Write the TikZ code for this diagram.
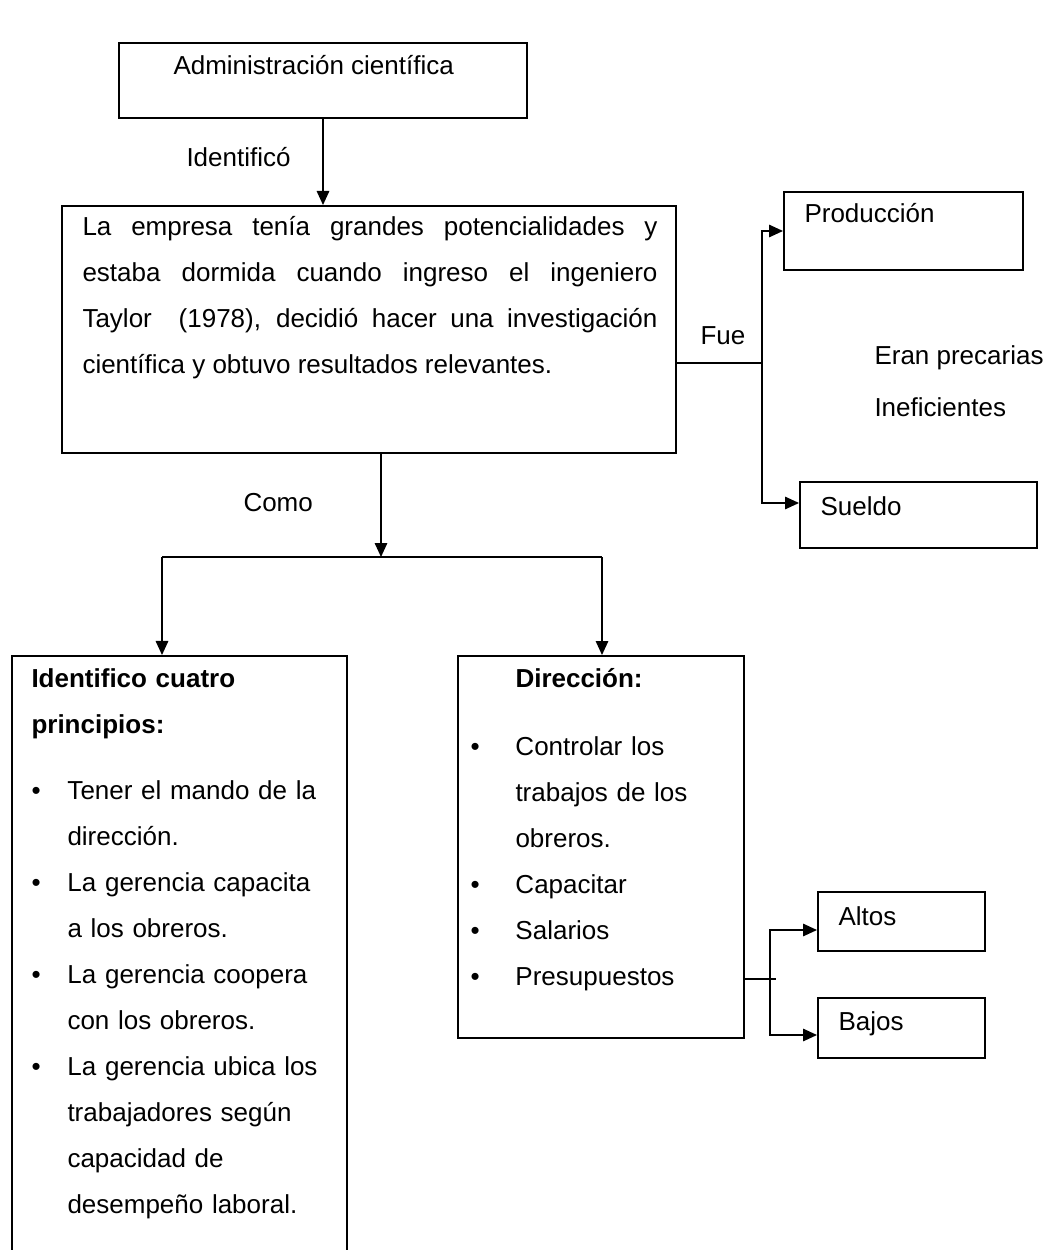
\documentclass[tikz,border=0pt]{standalone}
\usepackage{fontspec}
\setmainfont{Liberation Sans}
\usetikzlibrary{arrows.meta}
\newcommand{\bul}[1][14.4pt]{\makebox[#1][l]{\textbullet}}
\newcommand{\ind}[1][14.4pt]{\hspace*{#1}}

\begin{document}
\begin{tikzpicture}[x=0.4pt,y=-0.4pt,
    font=\fontsize{10.4}{18.4}\selectfont,
    box/.style={draw,line width=0.8pt,inner sep=0pt},
    txt/.style={anchor=base west,inner sep=0pt},
    para/.style={txt,align=left},
    link/.style={line width=0.6pt},
    arr/.style={link,-{Triangle[length=5.6pt,width=5pt]}}]
  \clip (0,0) rectangle (1048,1250);

  % boxes
  \node[box,minimum width=163.2pt,minimum height=30pt] (admin) at (323,80.5) {};
  \node[box,minimum width=245.6pt,minimum height=98.8pt] (emp) at (369,329.5) {};
  \node[box,minimum width=95.6pt,minimum height=31.2pt] (prod) at (903.5,231) {};
  \node[box,minimum width=94.8pt,minimum height=26.4pt] (sueldo) at (918.5,515) {};
  \node[box,minimum width=134pt,minimum height=243.6pt] (princ) at (179.5,960.5) {};
  \node[box,minimum width=114.4pt,minimum height=152.8pt] (dir) at (601,847) {};
  \node[box,minimum width=66.8pt,minimum height=23.6pt] (altos) at (901.5,921.5) {};
  \node[box,minimum width=66.8pt,minimum height=24pt] (bajos) at (901.5,1028) {};

  % box texts
  \node[txt] (admintxt) at (173,75) {Administración científica};
  \node[txt,text width=230pt,align=justify] (emptxt) at (82,236)
    {La empresa tenía grandes potencialidades y\linebreak
     estaba dormida cuando ingreso el ingeniero\linebreak
     Taylor\ \ (1978), decidió hacer una investigación\linebreak
     científica y obtuvo resultados relevantes.};
  \node[txt] (prodtxt) at (804,223) {Producción};
  \node[txt] (sueldotxt) at (820,515) {Sueldo};
  \node[para,text width=126pt] (princtxt) at (31,687)
    {\textbf{Identifico cuatro}\\
     \textbf{principios:}\\[8pt]
     \bul Tener el mando de la\\
     \ind dirección.\\
     \bul La gerencia capacita\\
     \ind a los obreros.\\
     \bul La gerencia coopera\\
     \ind con los obreros.\\
     \bul La gerencia ubica los\\
     \ind trabajadores según\\
     \ind capacidad de\\
     \ind desempeño laboral.};
  \node[para,text width=108pt] (dirtxt) at (470,687)
    {\ind[18pt]\textbf{Dirección:}\\[8.8pt]
     \bul[18pt]Controlar los\\
     \ind[18pt]trabajos de los\\
     \ind[18pt]obreros.\\
     \bul[18pt]Capacitar\\
     \bul[18pt]Salarios\\
     \bul[18pt]Presupuestos};
  \node[txt] (altostxt) at (838,925) {Altos};
  \node[txt] (bajostxt) at (838,1030) {Bajos};

  % labels
  \node[txt] (idlbl) at (186,167) {Identificó};
  \node[txt] (fuelbl) at (700,345) {Fue};
  \node[txt] (comolbl) at (243,511) {Como};
  \node[txt] (eran) at (874,365) {Eran precarias};
  \node[txt] (inef) at (874,417) {Ineficientes};

  % connectors
  \coordinate (fueJ) at (762,363);
  \coordinate (comoJ) at (381,557);
  \coordinate (lJ) at (162,557);
  \coordinate (rJ) at (602,557);
  \coordinate (presJ) at (770,979);
  \coordinate (presT) at (776,979);

  \draw[arr] (admin) -- (admin |- emp.north);
  \draw[link] (emp.east |- fueJ) -- (fueJ);
  \draw[arr] (fueJ) |- (prod.west);
  \draw[arr] (fueJ) |- ([yshift=4.8pt]sueldo.west);
  \draw[arr] (emp.south -| comoJ) -- (comoJ);
  \draw[link] (lJ) -- (rJ);
  \draw[arr] (lJ) -- (lJ |- princ.north);
  \draw[arr] (rJ) -- (rJ |- dir.north);
  \draw[link] (dir.east |- presJ) -- (presT);
  \draw[arr] (presJ) |- ([yshift=-3.4pt]altos.west);
  \draw[arr] (presJ) |- ([yshift=-2.8pt]bajos.west);
\end{tikzpicture}
\end{document}
